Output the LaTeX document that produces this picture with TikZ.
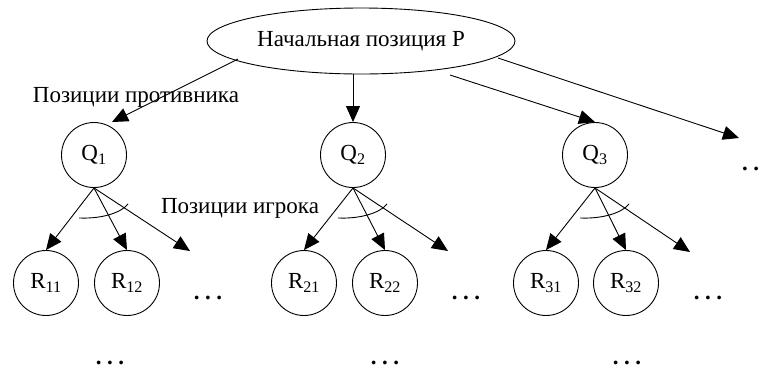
\documentclass[tikz,border=0pt]{standalone}
\usepackage{fontspec}
\setmainfont{Liberation Serif}
\usetikzlibrary{arrows.meta,shapes.geometric,calc}
\newcommand{\mydots}{.\kern5.5pt.\kern5.5pt.}
\begin{document}
\begin{tikzpicture}[x=1pt,y=-1pt,
  every node/.style={font=\fontsize{23}{26}\selectfont},
  conn/.style={line width=0.9pt,-{Triangle[length=16pt,width=14pt]}},
  posnode/.style={draw,line width=0.9pt,circle,minimum size=65pt,inner sep=0pt},
  arcline/.style={line width=0.9pt},
  dotsl/.style={inner sep=0pt,font=\fontsize{23}{26}\selectfont\bfseries}]
\useasboundingbox (0,0) rectangle (759,368);
\node[draw,ellipse,line width=0.9pt,minimum width=308pt,minimum height=66pt,inner sep=0pt] (P) at (361,41) {Начальная позиция Р};
\node[posnode] (Q1) at (94,155) {Q\textsubscript{1}};
\node[posnode] (Q2) at (353,155) {Q\textsubscript{2}};
\node[posnode] (Q3) at (595,155) {Q\textsubscript{3}};
\node[posnode] (R11) at (46,283) {R\textsubscript{11}};
\node[posnode] (R12) at (127,283) {R\textsubscript{12}};
\node[posnode] (R21) at (304,283) {R\textsubscript{21}};
\node[posnode] (R22) at (385,283) {R\textsubscript{22}};
\node[posnode] (R31) at (546,283) {R\textsubscript{31}};
\node[posnode] (R32) at (626,283) {R\textsubscript{32}};
\node (lopp) at (136,97) {Позиции противника};
\node (lpl) at (240,208) {Позиции игрока};
\node[dotsl,anchor=base] (d1) at (208,299) {\mydots};
\node[dotsl,anchor=base] (d2) at (466,299) {\mydots};
\node[dotsl,anchor=base] (d3) at (708,299) {\mydots};
\node[dotsl,anchor=base] (b1) at (110,364) {\mydots};
\node[dotsl,anchor=base] (b2) at (385,364) {\mydots};
\node[dotsl,anchor=base] (b3) at (627,364) {\mydots};
\node[dotsl,anchor=base west] (dr) at (742,170) {.\kern5.5pt.};
\coordinate (p1) at (238,59);
\coordinate (p3) at (450,75);
\coordinate (p4) at (498,58);
\coordinate (q1in) at (112,122);
\coordinate (tP) at (739,138);
\coordinate (t1) at (190,251);
\coordinate (t2) at (448,251);
\coordinate (t3) at (690,252);
\draw[conn] (p1) -- (q1in);
\draw[conn] (P.south -| Q2) -- (Q2.north);
\draw[conn] (p3) -- (Q3.north);
\draw[conn] (p4) -- (tP);
\foreach \q/\a/\b/\t in {Q1/R11/R12/t1,Q2/R21/R22/t2,Q3/R31/R32/t3}{
  \draw[conn] (\q.south) -- (\a.north);
  \draw[conn] (\q.south) -- (\b.north);
  \draw[conn] (\q.south) -- (\t);
  \draw[arcline] ($(\q.south)+(-15,30)$) .. controls ($(\q.south)+(5,31)$) and ($(\q.south)+(26,26)$) .. ($(\q.south)+(34,16)$);
}
\end{tikzpicture}
\end{document}
